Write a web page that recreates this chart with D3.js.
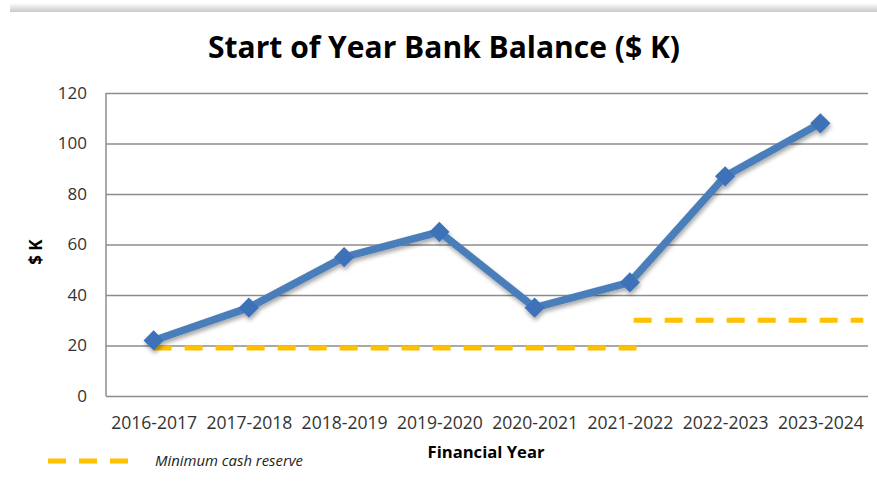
<!DOCTYPE html>
<html>
<head>
<meta charset="utf-8">
<script src="https://cdn.jsdelivr.net/npm/d3@7"></script>
<style>
  html, body { margin: 0; padding: 0; background: #fff; }
  svg { display: block; font-family: 'Open Sans', 'Noto Sans', sans-serif; }
</style>
</head>
<body>
<div id="chart"></div>
<script>
const years = ['2016-2017', '2017-2018', '2018-2019', '2019-2020', '2020-2021', '2021-2022', '2022-2023', '2023-2024']
const balance = [22, 35, 55, 65, 35, 45, 87, 108]
const yTicks = [0, 20, 40, 60, 80, 100, 120]
// reserve segments: start/end in category index units
const reserveStart = [0, 5.04]
const reserveEnd = [5.07, 7.45]
const reserveValue = [19, 30]

const width = 877, height = 482
const margin = { top: 93, right: 10, bottom: 86, left: 106 }

const svg = d3.select('#chart').append('svg')
  .attr('width', width).attr('height', height)

const defs = svg.append('defs')
const shade = defs.append('linearGradient').attr('id', 'topShade')
  .attr('x1', 0).attr('y1', 0).attr('x2', 0).attr('y2', 1)
shade.append('stop').attr('offset', '0%').attr('stop-color', '#fff')
shade.append('stop').attr('offset', '100%').attr('stop-color', '#c8c8c8')

const shadow = defs.append('filter').attr('id', 'shadow')
  .attr('x', '-50%').attr('y', '-50%').attr('width', '200%').attr('height', '200%')
shadow.append('feGaussianBlur').attr('in', 'SourceAlpha').attr('stdDeviation', 2).attr('result', 'blur')
shadow.append('feOffset').attr('in', 'blur').attr('dx', 1).attr('dy', 3).attr('result', 'off')
shadow.append('feComponentTransfer').attr('in', 'off').attr('result', 'soft')
  .append('feFuncA').attr('type', 'linear').attr('slope', 0.35)
const sm = shadow.append('feMerge')
sm.append('feMergeNode').attr('in', 'soft')
sm.append('feMergeNode').attr('in', 'SourceGraphic')

/* top shadow band */
svg.append('rect')
  .attr('x', 10).attr('y', 3).attr('width', width - 10).attr('height', 9)
  .attr('fill', 'url(#topShade)')

const innerW = 868 - margin.left
const innerH = 396 - margin.top

const x = d3.scalePoint().domain(years).range([0, innerW]).padding(0.5)
const step = x.step()
const xi = d3.scaleLinear().domain([0, 1]).range([x(years[0]), x(years[0]) + step])
const y = d3.scaleLinear().domain([0, 120]).range([innerH, 0])

const g = svg.append('g').attr('transform', `translate(${margin.left},${margin.top})`)

/* gridlines */
g.append('g')
  .call(d3.axisLeft(y).tickValues(yTicks).tickSize(-innerW).tickFormat(''))
  .call(a => a.select('.domain').remove())
  .selectAll('line').attr('stroke', '#8c8c8c').attr('stroke-width', 1.5)

/* y axis line */
g.append('line')
  .attr('x1', 0).attr('x2', 0).attr('y1', 0).attr('y2', innerH)
  .attr('stroke', '#8c8c8c').attr('stroke-width', 1.5)

/* y tick labels */
g.append('g')
  .call(d3.axisLeft(y).tickValues(yTicks).tickSize(0).tickPadding(19))
  .call(a => a.select('.domain').remove())
  .selectAll('text')
  .attr('font-size', 17).attr('fill', '#333')
  .attr('font-family', "'Open Sans', sans-serif")

/* x tick labels */
g.append('g').attr('transform', `translate(0,${innerH})`)
  .call(d3.axisBottom(x).tickSize(0).tickPadding(21))
  .call(a => a.select('.domain').remove())
  .selectAll('text')
  .attr('font-size', 17.5).attr('fill', '#333')
  .attr('font-family', "'Open Sans', sans-serif")
  .attr('textLength', 86).attr('lengthAdjust', 'spacingAndGlyphs')

/* reserve line */
reserveValue.forEach((v, i) => {
  g.append('line')
    .attr('x1', xi(reserveStart[i])).attr('x2', xi(reserveEnd[i]))
    .attr('y1', y(v)).attr('y2', y(v))
    .attr('stroke', '#ffc000').attr('stroke-width', 5)
    .attr('stroke-dasharray', '18 13')
})

/* balance line */
const series = g.append('g').attr('filter', 'url(#shadow)')
series.append('path')
  .datum(balance)
  .attr('fill', 'none')
  .attr('stroke', '#4a7ebb')
  .attr('stroke-width', 7.5)
  .attr('stroke-linejoin', 'round')
  .attr('d', d3.line().x((d, i) => x(years[i])).y(d => y(d)))

series.selectAll('path.marker')
  .data(balance)
  .join('path')
  .attr('class', 'marker')
  .attr('d', d3.symbol().type(d3.symbolDiamond2).size(260))
  .attr('transform', (d, i) => `translate(${x(years[i])},${y(d)})`)
  .attr('fill', '#3c72b8')

/* title */
svg.append('text')
  .attr('x', 444).attr('y', 58)
  .attr('text-anchor', 'middle')
  .attr('font-size', 30).attr('font-weight', 'bold')
  .attr('fill', '#000')
  .attr('textLength', 472).attr('lengthAdjust', 'spacingAndGlyphs')
  .text('Start of Year Bank Balance ($ K)')

/* axis titles */
svg.append('text')
  .attr('transform', `translate(42,${margin.top + y(57)}) rotate(-90)`)
  .attr('text-anchor', 'middle')
  .attr('font-size', 17).attr('font-weight', 'bold')
  .text('$ K')

svg.append('text')
  .attr('x', 486).attr('y', 458)
  .attr('text-anchor', 'middle')
  .attr('font-size', 16.5).attr('font-weight', 'bold')
  .attr('textLength', 117).attr('lengthAdjust', 'spacingAndGlyphs')
  .text('Financial Year')

/* legend */
svg.append('line')
  .attr('x1', 48).attr('x2', 133).attr('y1', 461).attr('y2', 461)
  .attr('stroke', '#ffc000').attr('stroke-width', 5)
  .attr('stroke-dasharray', '18 13')

svg.append('text')
  .attr('x', 155).attr('y', 466)
  .attr('font-size', 14).attr('font-style', 'italic')
  .attr('fill', '#222')
  .attr('textLength', 148).attr('lengthAdjust', 'spacingAndGlyphs')
  .text('Minimum cash reserve')
</script>
</body>
</html>
